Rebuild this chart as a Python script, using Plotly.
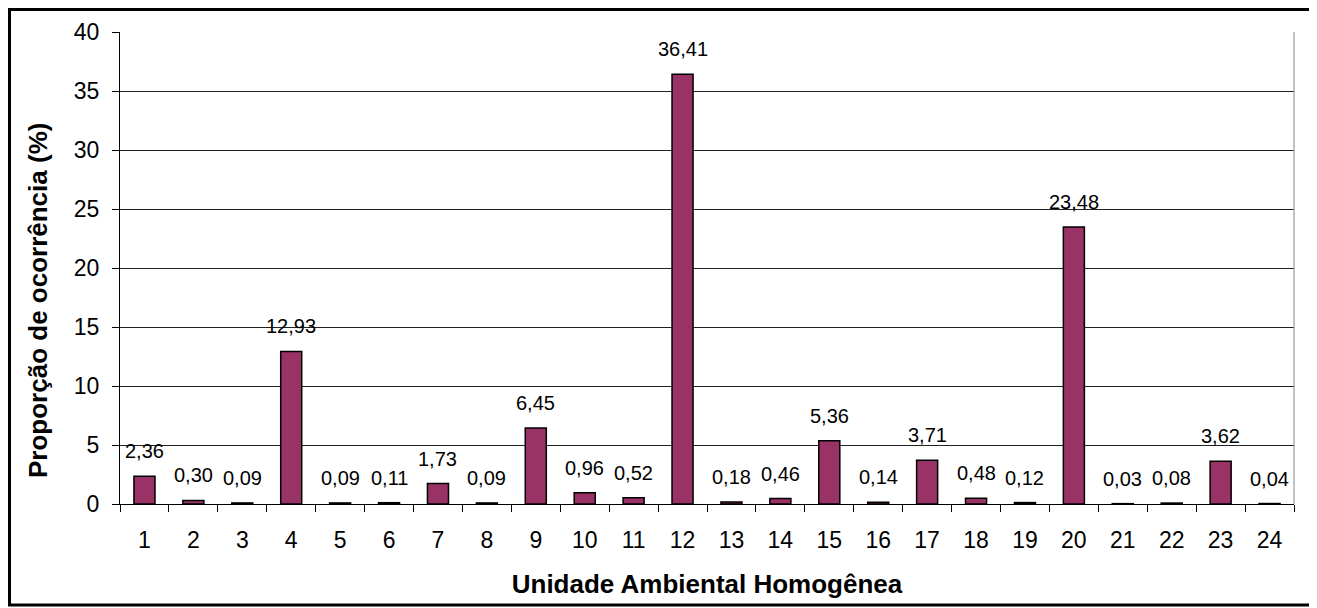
import plotly.graph_objects as go

categories = [str(i) for i in range(1, 25)]
values = [2.36, 0.30, 0.09, 12.93, 0.09, 0.11, 1.73, 0.09, 6.45, 0.96, 0.52, 36.41,
          0.18, 0.46, 5.36, 0.14, 3.71, 0.48, 0.12, 23.48, 0.03, 0.08, 3.62, 0.04]
y_ticks = [0, 5, 10, 15, 20, 25, 30, 35, 40]
x_title = "Unidade Ambiental Homogênea"
y_title = "Proporção de ocorrência (%)"

labels = [f"{v:.2f}".replace(".", ",") for v in values]

FONT = "Liberation Sans, Arial, sans-serif"

W, H = 1309, 600
ML, MR, MT, MB = 112, 23, 24, 104
PW, PH = W - ML - MR, H - MT - MB

def px(x):
    return (x - ML) / PW

def py(y):
    return (MT + PH - y) / PH

fig = go.Figure()
fig.add_trace(go.Bar(
    x=categories, y=values,
    marker=dict(color="#993366", line=dict(color="black", width=1.5)),
    width=0.43, hoverinfo="x+y",
))

for i, (v, t) in enumerate(zip(values, labels)):
    fig.add_annotation(x=i, y=v, text=t, showarrow=False, yanchor="middle",
                       yshift=25, font=dict(family=FONT, size=20, color="black"))

# y-axis title (placed slightly below the plot centre, as in the reference)
fig.add_annotation(xref="paper", yref="paper", x=px(30), y=py(293),
                   text=f"<b>{y_title}</b>", textangle=-90, showarrow=False,
                   xanchor="center", yanchor="middle",
                   font=dict(family=FONT, size=26, color="black"))

fig.update_layout(
    width=W, height=H,
    margin=dict(l=ML, r=MR, t=MT, b=MB),
    paper_bgcolor="white", plot_bgcolor="white",
    showlegend=False,
    font=dict(family=FONT, color="black"),
    xaxis=dict(
        type="category", tickson="boundaries", ticks="outside", ticklen=7,
        tickcolor="black", showline=True, linecolor="black", linewidth=1,
        showgrid=False, tickfont=dict(size=23), ticklabelstandoff=15,
        title=dict(text=f"<b>{x_title}</b>", font=dict(size=26), standoff=23),
    ),
    yaxis=dict(
        range=[0, 40], tickvals=y_ticks, ticks="outside", ticklen=7,
        tickcolor="black", showline=True, linecolor="black", linewidth=1,
        showgrid=True, gridcolor="#222", gridwidth=1, zeroline=False,
        tickfont=dict(size=23), ticklabelstandoff=8,
    ),
    shapes=[
        dict(type="line", xref="paper", yref="paper", x0=1, x1=1, y0=0, y1=1,
             line=dict(color="#888", width=1)),
        dict(type="rect", xref="paper", yref="paper",
             x0=px(1.5), x1=px(1303), y0=py(597), y1=py(1.5),
             line=dict(color="black", width=3)),
    ],
)

fig.write_html("out.html")
